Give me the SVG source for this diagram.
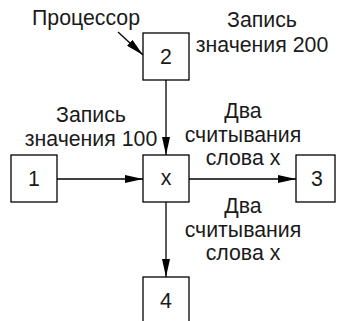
<svg xmlns="http://www.w3.org/2000/svg" width="337" height="321" viewBox="0 0 337 321">
<defs>
<style>
.box{fill:#fff;stroke:#000;stroke-width:1.3}
.t{font-family:"Liberation Sans",Arial,sans-serif;font-size:21.3px;fill:#1a1a1a}
.c{text-anchor:middle}
.ln{stroke:#000;stroke-width:1.3;fill:none}
</style>
<marker id="ah" viewBox="0 0 18 8" refX="18" refY="4" markerWidth="18" markerHeight="8" markerUnits="userSpaceOnUse" orient="auto">
<path d="M0,0 L18,4 L0,8 Z" fill="#000"/>
</marker>
</defs>
<rect width="337" height="321" fill="#fff"/>
<g id="connectors">
<line class="ln" x1="166" y1="80" x2="166" y2="155" marker-end="url(#ah)"/>
<line class="ln" x1="57" y1="179" x2="143" y2="179" marker-end="url(#ah)"/>
<line class="ln" x1="189" y1="179" x2="296" y2="179" marker-end="url(#ah)"/>
<line class="ln" x1="166" y1="202" x2="166" y2="277" marker-end="url(#ah)"/>
<line class="ln" x1="118" y1="32" x2="143" y2="55" marker-end="url(#ah)"/>
</g>
<g id="node-2"><rect class="box" x="143" y="33" width="46" height="47"/><text class="t c" x="166" y="64">2</text></g>
<g id="node-x"><rect class="box" x="143" y="155" width="46" height="47"/><text class="t c" x="166" y="185">x</text></g>
<g id="node-1"><rect class="box" x="11" y="155" width="46" height="47"/><text class="t c" x="34" y="186">1</text></g>
<g id="node-3"><rect class="box" x="296" y="155" width="39" height="47"/><text class="t c" x="317" y="186">3</text></g>
<g id="node-4"><rect class="box" x="143" y="277" width="46" height="47"/><text class="t c" x="166" y="308">4</text></g>
<g id="labels">
<text class="t" x="32" y="25">Процессор</text>
<text class="t c" x="262" y="27">Запись</text>
<text class="t c" x="262" y="52">значения 200</text>
<text class="t c" x="91" y="122">Запись</text>
<text class="t c" x="91" y="146">значения 100</text>
<text class="t c" x="243" y="118">Два</text>
<text class="t c" x="243" y="141.5">считывания</text>
<text class="t c" x="243" y="165">слова x</text>
<text class="t c" x="243" y="213">Два</text>
<text class="t c" x="243" y="236.5">считывания</text>
<text class="t c" x="243" y="259.5">слова x</text>
</g>
</svg>
